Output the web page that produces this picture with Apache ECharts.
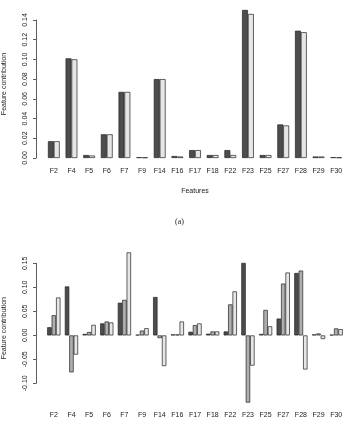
<!DOCTYPE html>
<html>
<head>
<meta charset="utf-8">
<script src="https://cdn.jsdelivr.net/npm/echarts@6.0.0/dist/echarts.min.js"></script>
<style>
  html, body { margin: 0; padding: 0; background: #fff; }
  #main { width: 345px; height: 429px; }
</style>
</head>
<body>
<div id="main"></div>
<script>
// categories shared by both panels
var features = ["F2", "F4", "F5", "F6", "F7", "F9", "F14", "F16", "F17", "F18", "F22", "F23", "F25", "F27", "F28", "F29", "F30"];

// panel (a)
var topDark  = [0.017, 0.101, 0.003, 0.024, 0.067, 0.0008, 0.080, 0.002, 0.008, 0.003, 0.008, 0.150, 0.003, 0.034, 0.129, 0.0015, 0.0008];
var topLight = [0.017, 0.100, 0.0025, 0.024, 0.067, 0.0006, 0.080, 0.0015, 0.008, 0.003, 0.003, 0.146, 0.003, 0.033, 0.1275, 0.0015, 0.0006];

// panel (b)
var botDark  = [0.017, 0.102, 0.003, 0.025, 0.068, 0.0014, 0.080, 0.002, 0.0076, 0.0035, 0.0083, 0.151, 0.003, 0.035, 0.130, 0.002, 0.0014];
var botMid   = [0.042, -0.077, 0.007, 0.029, 0.074, 0.010, -0.0056, 0.002, 0.0215, 0.0083, 0.0646, -0.140, 0.053, 0.108, 0.135, 0.004, 0.0146];
var botLight = [0.079, -0.040, 0.022, 0.027, 0.173, 0.015, -0.064, 0.029, 0.025, 0.0083, 0.0917, -0.063, 0.019, 0.131, -0.071, -0.0076, 0.013];

var txt = "#222";
var font = "Liberation Sans";

function fmt(v) {
  if (Math.abs(v) < 1e-9) return "0.00";
  return v.toFixed(2);
}

// bar panel axes (no lines, only category labels)
function catAxis(gi, margin, nameGap) {
  return {
    type: "category", gridIndex: gi, data: features,
    axisLine: { show: false, onZero: false },
    axisTick: { show: false },
    axisLabel: { color: txt, fontSize: 7, fontFamily: font, margin: margin, interval: 0 },
    name: "Features", nameLocation: "middle", nameGap: nameGap,
    nameTextStyle: { color: txt, fontSize: 7, fontFamily: font }
  };
}
function hiddenY(gi, min, max) {
  return {
    type: "value", gridIndex: gi, min: min, max: max,
    axisLine: { show: false }, axisTick: { show: false },
    axisLabel: { show: false }, splitLine: { show: false },
    name: "Feature contribution", nameLocation: "middle", nameGap: 37, nameRotate: 90,
    nameTextStyle: { color: txt, fontSize: 7, fontFamily: font }
  };
}
// R style axis, drawn in its own thin grid so the line stops at the last tick
function rAxis(gi, min, max, step) {
  return {
    type: "value", gridIndex: gi, min: min, max: max, interval: step,
    axisLine: { show: true, lineStyle: { color: "#333", width: 0.8 } },
    axisTick: { show: true, length: 3, lineStyle: { color: "#333", width: 0.8 } },
    axisLabel: { color: txt, fontSize: 7, fontFamily: font, rotate: 90, margin: 7, formatter: fmt },
    splitLine: { show: false }
  };
}
function blankX(gi) {
  return { type: "value", gridIndex: gi, show: false };
}
function bar(name, data, color, xi, gap) {
  var s = {
    name: name, type: "bar", xAxisIndex: xi, yAxisIndex: xi, data: data,
    itemStyle: { color: color, borderColor: "#222", borderWidth: 0.7 },
    barGap: "0%"
  };
  if (gap) s.barCategoryGap = gap;
  return s;
}

var chart = echarts.init(document.getElementById("main"));
chart.setOption({
  animation: false,
  backgroundColor: "#fff",
  // outerBoundsMode none: keep the grids where they are even if the lower title runs off the page
  grid: [
    { left: 45, right: 0, top: 10, height: 148, outerBoundsMode: "none" },
    { left: 36, width: 1, top: 20, height: 138, outerBoundsMode: "none" },
    { left: 45, right: 0, top: 249, height: 158.4, outerBoundsMode: "none" },
    { left: 36, width: 1, top: 263.3, height: 120, outerBoundsMode: "none" }
  ],
  xAxis: [catAxis(0, 10, 30), blankX(1), catAxis(2, 4, 24), blankX(3)],
  yAxis: [hiddenY(0, 0, 0.15), rAxis(1, 0, 0.14, 0.02), hiddenY(2, -0.15, 0.18), rAxis(3, -0.10, 0.15, 0.05)],
  series: [
    bar("a1", topDark, "#4d4d4d", 0),
    bar("a2", topLight, "#e6e6e6", 0, "33.3%"),
    bar("b1", botDark, "#4d4d4d", 2),
    bar("b2", botMid, "#aeaeae", 2),
    bar("b3", botLight, "#e6e6e6", 2, "25%")
  ],
  graphic: [
    {
      type: "text", left: 175, top: 218,
      style: { text: "(a)", fill: txt, fontSize: 8, fontFamily: "Liberation Serif" }
    }
  ]
});
</script>
</body>
</html>
